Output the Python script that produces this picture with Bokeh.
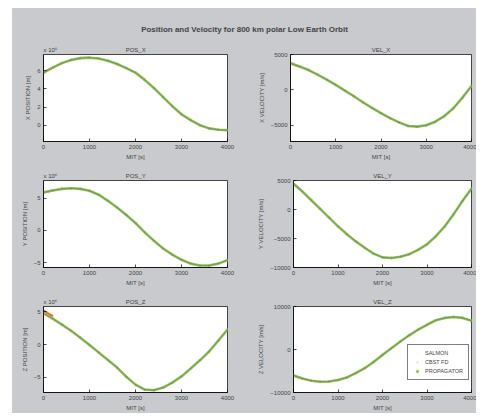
from bokeh.plotting import figure
from bokeh.layouts import row, column
from bokeh.models import Range1d, FixedTicker, Label, Legend, LegendItem
from bokeh.embed import file_html
from bokeh.resources import INLINE

# ---------------- data ----------------
main_title = "Position and Velocity for 800 km polar Low Earth Orbit"
series_names = ["SALMON", "CBST FD", "PROPAGATOR"]
x_label = "MIT [s]"
x_ticks = [0, 1000, 2000, 3000, 4000]
pos_scale_label = "x 10\u2076"

time_s = [0, 200, 400, 600, 800, 1000, 1200, 1400, 1600, 1800, 2000,
          2200, 2400, 2600, 2800, 3000, 3200, 3400, 3600, 3800, 4000]

# positions in units of 10^6 m
pos_x = [5.8, 6.35, 6.85, 7.2, 7.4, 7.45, 7.35, 7.1, 6.75, 6.3, 5.8,
         5.0, 4.1, 3.1, 2.1, 1.2, 0.55, 0.0, -0.35, -0.5, -0.55]
pos_y = [5.9, 6.2, 6.45, 6.55, 6.45, 6.15, 5.55, 4.6, 3.55, 2.4, 1.15,
         -0.3, -1.6, -2.8, -3.75, -4.55, -5.15, -5.45, -5.45, -5.15, -4.6]
pos_z = [4.75, 3.95, 3.05, 2.1, 1.05, -0.05, -1.2, -2.35, -3.5, -4.9, -6.1,
         -6.85, -6.95, -6.55, -5.8, -4.85, -3.65, -2.4, -1.05, 0.6, 2.3]
# velocities in m/s
vel_x = [3750, 3300, 2800, 2150, 1450, 700, -100, -900, -1750, -2550, -3300,
         -4000, -4600, -5100, -5200, -5000, -4500, -3700, -2600, -1100, 550]
vel_y = [4450, 3100, 1600, 100, -1400, -2900, -4250, -5500, -6600, -7600, -8250,
         -8350, -8150, -7700, -6950, -6000, -4600, -2900, -800, 1500, 3600]
vel_z = [-6050, -6750, -7250, -7500, -7450, -7100, -6500, -5500, -4350, -2900, -1250,
         300, 1850, 3300, 4600, 5750, 6800, 7350, 7550, 7350, 6700]

# short SALMON samples at the start of the arc
salmon_t = [0, 50, 100, 150, 200]
salmon_pos_x = [5.8, 5.94, 6.08, 6.21, 6.35]
salmon_pos_y = [5.9, 5.98, 6.05, 6.13, 6.2]
salmon_pos_z = [5.15, 4.95, 4.75, 4.55, 4.35]
salmon_vel_x = [3750, 3640, 3520, 3410, 3300]
salmon_vel_y = [4450, 4110, 3780, 3440, 3100]
salmon_vel_z = [-6050, -6230, -6400, -6580, -6750]

panels = [
    ("POS_X", "X POSITION [m]", pos_x, salmon_pos_x, (-1.8, 7.8), [0, 2, 4, 6], True),
    ("VEL_X", "X VELOCITY [m/s]", vel_x, salmon_vel_x, (-7300, 5000), [-5000, 0, 5000], False),
    ("POS_Y", "Y POSITION [m]", pos_y, salmon_pos_y, (-5.75, 7.75), [-5, 0, 5], True),
    ("VEL_Y", "Y VELOCITY [m/s]", vel_y, salmon_vel_y, (-10000, 5000), [-10000, -5000, 0, 5000], False),
    ("POS_Z", "Z POSITION [m]", pos_z, salmon_pos_z, (-7.3, 5.8), [-5, 0, 5], True),
    ("VEL_Z", "Z VELOCITY [m/s]", vel_z, salmon_vel_z, (-10000, 10000), [-10000, 0, 10000], False),
]

# ---------------- styling ----------------
GRAY = "#c8cacd"
FONT = "Liberation Sans"
GREEN = "#8fc455"
CORE = "#66725d"
SALMON_C = "#ee6a3c"

FRAME_W, FRAME_H = 184, 88
LEFT_B = {True: 31, False: 32}
RIGHT_B = {True: 28, False: 5}
NBSP = "\u00a0"


def make_panel(idx, name, ylab, yvals, svals, yr, yticks, is_pos):
    left_col = idx % 2 == 0
    last_row = idx >= 4
    bottom = 20 if last_row else 28
    p = figure(width=LEFT_B[left_col] + FRAME_W + RIGHT_B[left_col],
               height=10 + FRAME_H + bottom,
               output_backend="svg", toolbar_location=None,
               x_range=Range1d(0, 4000), y_range=Range1d(*yr),
               min_border_left=LEFT_B[left_col],
               min_border_right=RIGHT_B[left_col],
               min_border_top=10,
               min_border_bottom=bottom,
               background_fill_color="white", border_fill_color=GRAY,
               outline_line_color="black", outline_line_width=0.7)
    if is_pos:
        # scale factor at the top-left corner, subplot name centred over the frame
        p.title.text = pos_scale_label + NBSP * 41 + name
        p.title.align = "left"
    else:
        p.title.text = name
        p.title.align = "center"
    p.title.text_font = FONT
    p.title.text_font_size = "6px"
    p.title.text_font_style = "normal"
    p.title.standoff = 3
    p.xgrid.visible = False
    p.ygrid.visible = False
    for ax in (p.xaxis[0], p.yaxis[0]):
        ax.major_label_text_font = FONT
        ax.major_label_text_font_size = "6px"
        ax.axis_label_text_font = FONT
        ax.axis_label_text_font_size = "6px"
        ax.axis_label_text_font_style = "normal"
        ax.major_tick_in = 3
        ax.major_tick_out = 0
        ax.minor_tick_line_color = None
        ax.axis_line_width = 0.7
        ax.major_tick_line_width = 0.7
        ax.major_label_standoff = 3
    p.xaxis.ticker = FixedTicker(ticks=x_ticks)
    p.xaxis.axis_label = x_label
    p.xaxis.axis_label_standoff = 2
    p.yaxis.ticker = FixedTicker(ticks=yticks)
    p.yaxis.axis_label = ylab
    p.yaxis.axis_label_standoff = 3

    p.line(salmon_t, svals, line_color=SALMON_C, line_width=2.2)
    r_s = p.scatter(salmon_t, svals, marker="dot", size=6, line_color=SALMON_C, fill_color=SALMON_C)
    p.line(time_s, yvals, line_color=GREEN, line_width=2.6)
    r_p = p.scatter(time_s, yvals, marker="circle", size=1.8, line_color=GREEN, fill_color=GREEN)
    p.line(time_s, yvals, line_color=CORE, line_width=0.8, line_alpha=0.7)
    r_o = p.scatter(time_s, yvals, marker="x", size=1.5, line_color=CORE, line_width=0.4,
                    line_alpha=0.6)

    if idx == 5:
        legend = Legend(items=[LegendItem(label=series_names[0], renderers=[r_s]),
                               LegendItem(label=series_names[1], renderers=[r_o]),
                               LegendItem(label=series_names[2], renderers=[r_p])],
                        location=(114, 12),
                        border_line_color="black", border_line_width=0.6,
                        background_fill_color="white", background_fill_alpha=1,
                        label_text_font=FONT, label_text_font_size="5.5px",
                        glyph_width=8, glyph_height=6, label_height=6,
                        label_standoff=4, spacing=3, padding=5, margin=0)
        p.add_layout(legend)
    return p


figs = [make_panel(i, *cfg) for i, cfg in enumerate(panels)]

TOTAL_W = sum(f.width for f in figs[:2])
pt = figure(width=TOTAL_W, height=35, output_backend="svg", toolbar_location=None,
            x_range=Range1d(0, 1), y_range=Range1d(0, 1),
            x_axis_location=None, y_axis_location=None,
            min_border=0, border_fill_color=GRAY, background_fill_color=GRAY,
            outline_line_color=None)
pt.xgrid.visible = False
pt.ygrid.visible = False
pt.add_layout(Label(x=TOTAL_W / 2, y=14, x_units="screen", y_units="screen", text=main_title,
                    text_font=FONT, text_font_size="8px", text_font_style="bold",
                    text_align="center", text_baseline="middle"))

bg = {"background-color": GRAY}
rows = [row(figs[i], figs[i + 1], spacing=0, styles=bg) for i in (0, 2, 4)]
page = column(pt, *rows, spacing=0, margin=(8, 0, 0, 12), styles=bg)

open("out.html", "w").write(file_html(page, INLINE))
